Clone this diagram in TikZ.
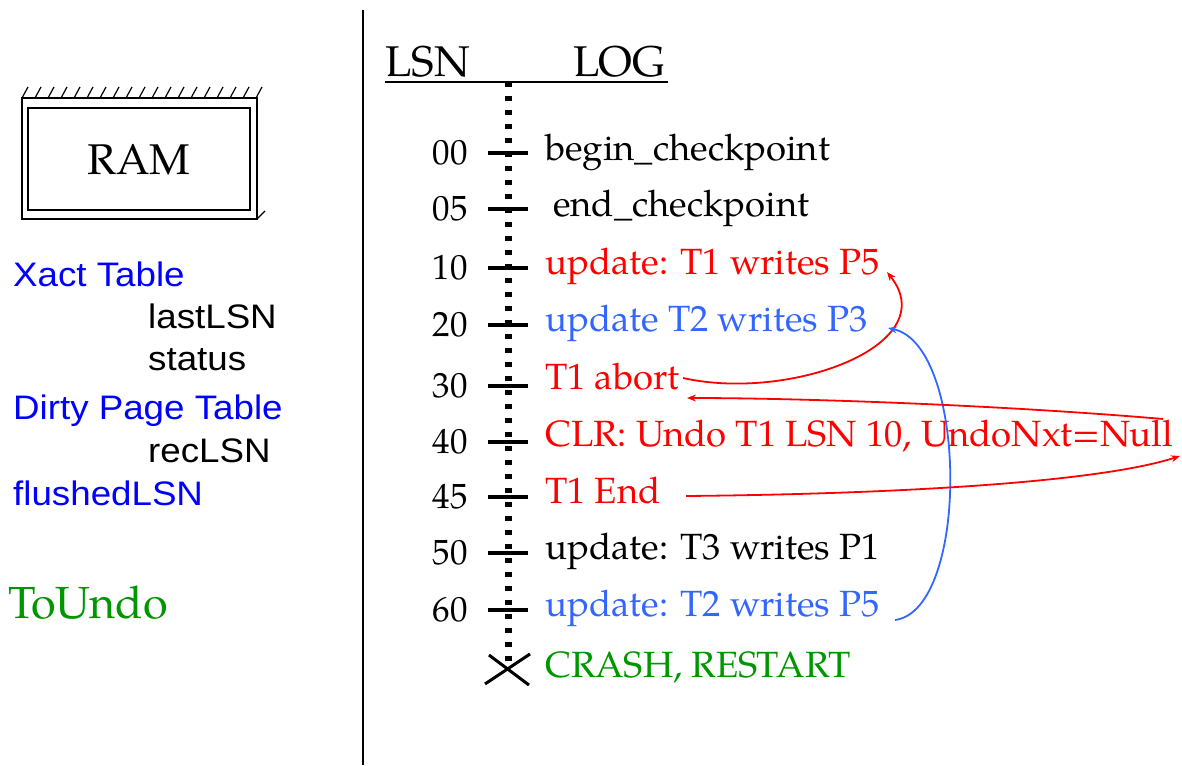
\documentclass[tikz,border=0pt]{standalone}
\usepackage{fontspec}
\setmainfont{TeX Gyre Pagella}
\newfontfamily\arialf{Liberation Sans}
\usetikzlibrary{arrows.meta}
\definecolor{logred}{RGB}{255,0,0}
\definecolor{logblue}{RGB}{51,102,255}
\definecolor{ramblue}{RGB}{0,0,255}
\definecolor{loggreen}{RGB}{0,150,0}
\newcommand{\sidetxt}[1]{\scalebox{1.08}[1]{#1}}
\tikzset{
  entry/.style={font=\fontsize{36.5}{40}\selectfont, anchor=base west, inner sep=0pt},
  num/.style={font=\fontsize{35}{38}\selectfont, anchor=base east, inner sep=0pt},
  side/.style={font=\arialf\fontsize{34}{36}\selectfont, anchor=base west, inner sep=0pt},
  head/.style={font=\fontsize{43}{46}\selectfont, anchor=base west, inner sep=0pt},
  tick/.style={line width=3.4pt},
  link/.style={line width=1.8pt, -{Stealth[length=9pt,width=7pt]}},
}
\begin{document}
\begin{tikzpicture}[x=1pt,y=-1pt]
\useasboundingbox (0,0) rectangle (1182,765);
% separator
\draw[line width=1.5pt] (363,10) -- (363,765);
% RAM box
\draw[line width=1.6pt] (22,98) rectangle (257,219);
\draw[line width=1.3pt] (28,108) rectangle (250,210);
\foreach \hx in {22,35,...,262} {\draw[line width=1.2pt] (\hx,98) -- (\hx+6,87);}
\draw[line width=1.2pt] (257,219) -- (265,211);
\node[font=\fontsize{43}{46}\selectfont, inner sep=0pt] (ram) at (139,160) {RAM};
% side texts
\node[side, text=ramblue] (xact) at (13,286) {\sidetxt{Xact Table}};
\node[side] (last) at (148,328) {\sidetxt{lastLSN}};
\node[side] (stat) at (148,370) {\sidetxt{status}};
\node[side, text=ramblue] (dpt) at (13,419) {\sidetxt{Dirty Page Table}};
\node[side] (rec) at (148,462) {\sidetxt{recLSN}};
\node[side, text=ramblue] (flush) at (13,505) {\sidetxt{flushedLSN}};
\node[font=\fontsize{45}{46}\selectfont, anchor=base west, inner sep=0pt, text=loggreen] (toundo) at (8,618) {ToUndo};
% header
\node[head] (lsn) at (385,77) {LSN};
\node[head] (logh) at (573,77) {LOG};
\draw[line width=1.8pt] (385,82) -- (668,82);
% log axis
\coordinate (axtop) at (508,82);
\coordinate (axbot) at (508,665);
\draw[line width=7pt, dash pattern=on 5pt off 9pt] (axtop) -- (axbot);
\foreach \ty in {153,209,268,325,386,442,497,553,610} {\draw[tick] (488,\ty) -- (528,\ty);}
\draw[line width=3pt] (485,684) -- (530,654);
\draw[line width=3pt] (489,655) -- (529,685);
% numbers
\node[num] (n00) at (468,164) {00};
\node[num] (n05) at (468,220) {05};
\node[num] (n10) at (468,279) {10};
\node[num] (n20) at (468,336) {20};
\node[num] (n30) at (468,397) {30};
\node[num] (n40) at (468,453) {40};
\node[num] (n45) at (468,508) {45};
\node[num] (n50) at (468,564) {50};
\node[num] (n60) at (468,621) {60};
% entries
\node[entry] (e00) at (545,160) {begin\_checkpoint};
\node[entry] (e05) at (553,216) {end\_checkpoint};
\node[entry, text=logred] (e10) at (545,274) {update: T1 writes P5};
\node[entry, text=logblue] (e20) at (545,331) {update T2 writes P3};
\node[entry, text=logred] (e30) at (545,389) {T1 abort};
\node[entry, text=logred] (e40) at (545,446) {CLR: Undo T1 LSN 10, UndoNxt=Null};
\node[entry, text=logred] (e45) at (545,503) {T1 End};
\node[entry] (e50) at (545,559) {update: T3 writes P1};
\node[entry, text=logblue] (e60) at (545,616) {update: T2 writes P5};
\node[entry, text=loggreen] (crash) at (545,677) {CRASH, RESTART};
% connector ends
\coordinate (a1s) at (683,378);
\coordinate (a1e) at (887,272);
\coordinate (a2s) at (895,620);
\coordinate (a2e) at (888,328);
\coordinate (a3s) at (1163,419);
\coordinate (a3e) at (687,398);
\coordinate (a4s) at (686,496);
\coordinate (a4e) at (1180,456);
\draw[link, logred] (a1s) .. controls (790,402) and (945,345) .. (a1e);
\draw[link, logblue] (a2s) .. controls (970,610) and (968,345) .. (a2e);
\draw[link, logred] (a3s) .. controls (1000,405) and (800,398) .. (a3e);
\draw[link, logred] (a4s) .. controls (900,494) and (1100,482) .. (a4e);
\end{tikzpicture}
\end{document}
